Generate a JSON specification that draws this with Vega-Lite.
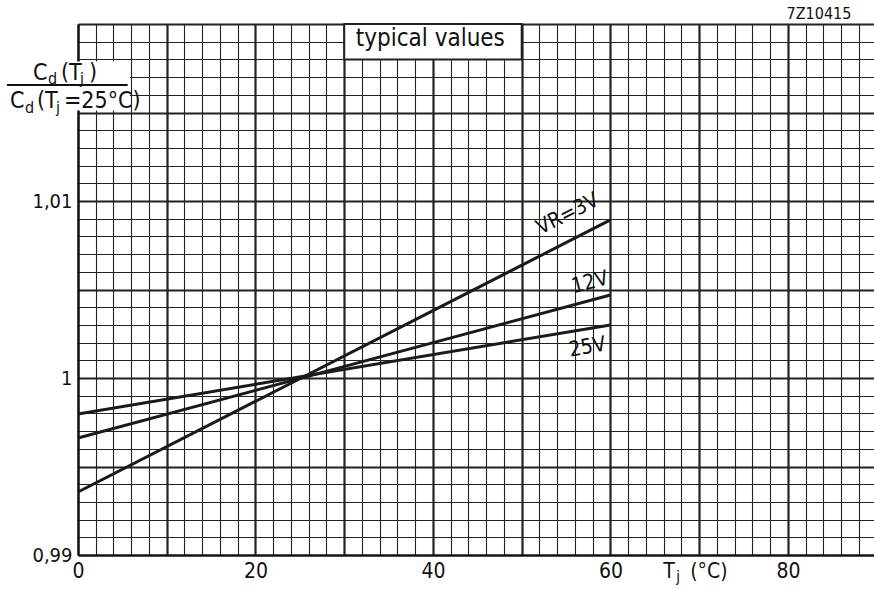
{
  "$schema": "https://vega.github.io/schema/vega-lite/v6.json",
  "width": 796,
  "height": 531,
  "autosize": {"type": "none"},
  "padding": {"left": 78, "top": 24, "right": 0, "bottom": 34},
  "background": "white",
  "config": {
    "view": {"stroke": null},
    "font": "DejaVu Sans Condensed",
    "text": {"font": "DejaVu Sans Condensed", "color": "#111"}
  },
  "resolve": {"axis": {"x": "independent", "y": "independent"}},
  "datasets": {
    "curves": [
      {"vr": "3V", "t": 0, "c": 0.99356},
      {"vr": "3V", "t": 60, "c": 1.00893},
      {"vr": "12V", "t": 0, "c": 0.99661},
      {"vr": "12V", "t": 60, "c": 1.00469},
      {"vr": "25V", "t": 0, "c": 0.99797},
      {"vr": "25V", "t": 60, "c": 1.003}
    ],
    "one": [{}]
  },
  "layer": [
    {
      "data": {"name": "curves"},
      "mark": {"type": "line", "color": "#1a1a1a", "strokeWidth": 3},
      "encoding": {
        "x": {
          "field": "t", "type": "quantitative",
          "scale": {"domain": [0, 89.7], "nice": false, "zero": false},
          "axis": {
            "values": [0,2,4,6,8,10,12,14,16,18,20,22,24,26,28,30,32,34,36,38,40,42,44,46,48,50,52,54,56,58,60,62,64,66,68,70,72,74,76,78,80,82,84,86,88],
            "labelExpr": "datum.value % 20 === 0 ? datum.label : ''",
            "labelFontSize": 21, "labelFont": "DejaVu Sans Condensed", "labelColor": "#111",
            "labelPadding": 5, "labelFlush": false, "labelOverlap": false, "labelBound": false,
            "ticks": false, "title": null,
            "domainColor": "#111", "domainWidth": 2,
            "grid": true, "gridColor": "#222", "gridOpacity": 1,
            "gridWidth": {"condition": {"test": "datum.value % 10 === 0", "value": 2.2}, "value": 1.1}
          }
        },
        "y": {
          "field": "c", "type": "quantitative",
          "scale": {"domain": [0.99, 1.02], "nice": false, "zero": false},
          "axis": {
            "values": [0.99,0.991,0.992,0.993,0.994,0.995,0.996,0.997,0.998,0.999,1.0,1.001,1.002,1.003,1.004,1.005,1.006,1.007,1.008,1.009,1.01,1.011,1.012,1.013,1.014,1.015,1.016,1.017,1.018,1.019,1.02],
            "labelExpr": "round(datum.value*1000) === 1000 ? '1' : (round(datum.value*1000) === 990 ? '0,99' : (round(datum.value*1000) === 1010 ? '1,01' : ''))",
            "labelFontSize": 20, "labelFont": "DejaVu Sans Condensed", "labelColor": "#111",
            "labelPadding": 6, "labelFlush": false, "labelOverlap": false, "labelBound": false,
            "ticks": false, "title": null,
            "domainColor": "#111", "domainWidth": 2,
            "grid": true, "gridColor": "#222", "gridOpacity": 1,
            "gridWidth": {"condition": {"test": "round(datum.value*1000) % 5 === 0", "value": 2.2}, "value": 1.1}
          }
        },
        "detail": {"field": "vr"}
      }
    },
    {
      "data": {"name": "one"},
      "mark": {"type": "rect", "fill": "white", "stroke": null},
      "encoding": {
        "x": {"datum": -0.7, "axis": null}, "x2": {"datum": 5.85},
        "y": {"datum": 1.01512, "axis": null}, "y2": {"datum": 1.01788}
      }
    },
    {
      "data": {"name": "one"},
      "mark": {"type": "rect", "fill": "white", "stroke": "#222", "strokeWidth": 2},
      "encoding": {
        "x": {"datum": 30, "axis": null}, "x2": {"datum": 50},
        "y": {"datum": 1.018, "axis": null}, "y2": {"datum": 1.02}
      }
    },
    {
      "data": {"name": "one"},
      "mark": {"type": "text", "fontSize": 24, "align": "center", "baseline": "middle"},
      "encoding": {"x": {"datum": 39.7, "axis": null}, "y": {"datum": 1.01915, "axis": null}, "text": {"value": "typical values"}}
    },
    {
      "data": {"name": "one"},
      "mark": {"type": "text", "fontSize": 16, "align": "center", "baseline": "middle"},
      "encoding": {"x": {"datum": 83.5, "axis": null}, "y": {"datum": 1.02056, "axis": null}, "text": {"value": "7Z10415"}}
    },
    {
      "data": {"name": "one"},
      "mark": {"type": "rule", "color": "#111", "strokeWidth": 2},
      "encoding": {"x": {"datum": -8, "axis": null}, "x2": {"datum": 5.6}, "y": {"datum": 1.01655, "axis": null}}
    },
    {"data": {"name": "one"}, "mark": {"type": "text", "fontSize": 23, "align": "left", "baseline": "alphabetic", "dx": -45, "dy": 56}, "encoding": {"x": {"datum": 0, "axis": null}, "y": {"datum": 1.02, "axis": null}, "text": {"value": "C"}}},
    {"data": {"name": "one"}, "mark": {"type": "text", "fontSize": 16, "align": "left", "baseline": "alphabetic", "dx": -30, "dy": 60}, "encoding": {"x": {"datum": 0, "axis": null}, "y": {"datum": 1.02, "axis": null}, "text": {"value": "d"}}},
    {"data": {"name": "one"}, "mark": {"type": "text", "fontSize": 23, "align": "left", "baseline": "alphabetic", "dx": -17, "dy": 56}, "encoding": {"x": {"datum": 0, "axis": null}, "y": {"datum": 1.02, "axis": null}, "text": {"value": "(T"}}},
    {"data": {"name": "one"}, "mark": {"type": "text", "fontSize": 16, "align": "left", "baseline": "alphabetic", "dx": 2, "dy": 60}, "encoding": {"x": {"datum": 0, "axis": null}, "y": {"datum": 1.02, "axis": null}, "text": {"value": "j"}}},
    {"data": {"name": "one"}, "mark": {"type": "text", "fontSize": 23, "align": "left", "baseline": "alphabetic", "dx": 11, "dy": 56}, "encoding": {"x": {"datum": 0, "axis": null}, "y": {"datum": 1.02, "axis": null}, "text": {"value": ")"}}},
    {"data": {"name": "one"}, "mark": {"type": "text", "fontSize": 23, "align": "left", "baseline": "alphabetic", "dx": -68, "dy": 84}, "encoding": {"x": {"datum": 0, "axis": null}, "y": {"datum": 1.02, "axis": null}, "text": {"value": "C"}}},
    {"data": {"name": "one"}, "mark": {"type": "text", "fontSize": 16, "align": "left", "baseline": "alphabetic", "dx": -53, "dy": 89}, "encoding": {"x": {"datum": 0, "axis": null}, "y": {"datum": 1.02, "axis": null}, "text": {"value": "d"}}},
    {"data": {"name": "one"}, "mark": {"type": "text", "fontSize": 23, "align": "left", "baseline": "alphabetic", "dx": -41, "dy": 84}, "encoding": {"x": {"datum": 0, "axis": null}, "y": {"datum": 1.02, "axis": null}, "text": {"value": "(T"}}},
    {"data": {"name": "one"}, "mark": {"type": "text", "fontSize": 16, "align": "left", "baseline": "alphabetic", "dx": -22, "dy": 89}, "encoding": {"x": {"datum": 0, "axis": null}, "y": {"datum": 1.02, "axis": null}, "text": {"value": "j"}}},
    {"data": {"name": "one"}, "mark": {"type": "text", "fontSize": 23, "align": "left", "baseline": "alphabetic", "dx": -14, "dy": 84}, "encoding": {"x": {"datum": 0, "axis": null}, "y": {"datum": 1.02, "axis": null}, "text": {"value": "=25°C)"}}},
    {"data": {"name": "one"}, "mark": {"type": "text", "fontSize": 21, "align": "left", "baseline": "alphabetic", "dx": -36, "dy": 23}, "encoding": {"x": {"datum": 70, "axis": null}, "y": {"datum": 0.99, "axis": null}, "text": {"value": "T"}}},
    {"data": {"name": "one"}, "mark": {"type": "text", "fontSize": 15, "align": "left", "baseline": "alphabetic", "dx": -23, "dy": 27}, "encoding": {"x": {"datum": 70, "axis": null}, "y": {"datum": 0.99, "axis": null}, "text": {"value": "j"}}},
    {"data": {"name": "one"}, "mark": {"type": "text", "fontSize": 21, "align": "left", "baseline": "alphabetic", "dx": -9, "dy": 23}, "encoding": {"x": {"datum": 70, "axis": null}, "y": {"datum": 0.99, "axis": null}, "text": {"value": "(°C)"}}},
    {"data": {"name": "one"}, "mark": {"type": "text", "fontSize": 21, "align": "center", "baseline": "middle", "angle": 333}, "encoding": {"x": {"datum": 55.2, "axis": null}, "y": {"datum": 1.00925, "axis": null}, "text": {"value": "VR=3V"}}},
    {"data": {"name": "one"}, "mark": {"type": "text", "fontSize": 21, "align": "center", "baseline": "middle", "angle": 345}, "encoding": {"x": {"datum": 57.7, "axis": null}, "y": {"datum": 1.00538, "axis": null}, "text": {"value": "12V"}}},
    {"data": {"name": "one"}, "mark": {"type": "text", "fontSize": 21, "align": "center", "baseline": "middle", "angle": 350}, "encoding": {"x": {"datum": 57.4, "axis": null}, "y": {"datum": 1.00172, "axis": null}, "text": {"value": "25V"}}}
  ]
}
